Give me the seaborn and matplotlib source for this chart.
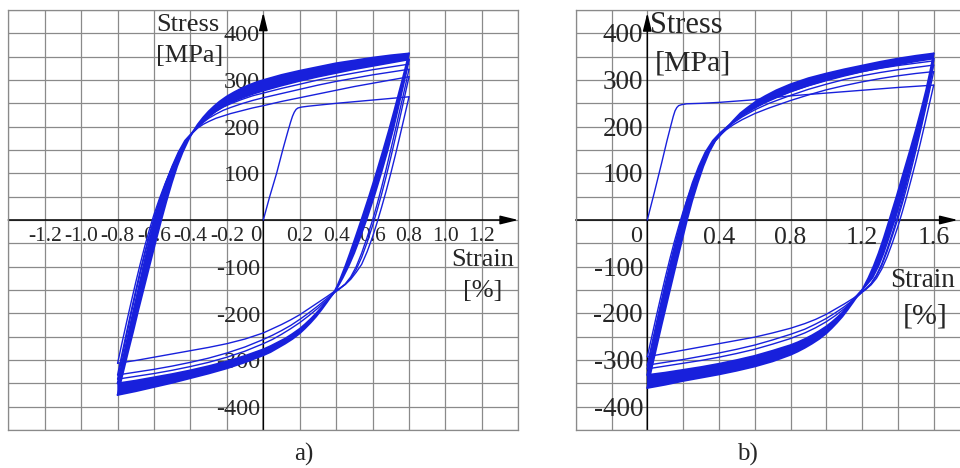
import numpy as np
import pandas as pd
import matplotlib
matplotlib.use("Agg")
import matplotlib.pyplot as plt
import seaborn as sns

sns.set_style("white")
plt.rcParams["font.family"] = ["Liberation Serif", "DejaVu Serif"]

BLUE = "#1820dc"
GRID = "#8a8a8a"

# ---------------- panel a) data : (strain %, stress MPa) ----------------
A_INIT = [(0.00, 0), (0.035, 50), (0.073, 100), (0.11, 155), (0.135, 190), (0.15, 210), (0.16, 222),
          (0.17, 231), (0.18, 237), (0.19, 240), (0.21, 242), (0.25, 244), (0.40, 250), (0.60, 257),
          (0.80, 264)]
A_LB1 = [(0.80, 264), (0.775, 222), (0.75, 180), (0.725, 139), (0.70, 100), (0.675, 63), (0.65, 28),
         (0.625, -5), (0.60, -36), (0.57, -68), (0.54, -95), (0.51, -112), (0.48, -127), (0.45, -138),
         (0.42, -146), (0.39, -153), (0.35, -164), (0.30, -177), (0.25, -190), (0.20, -203),
         (0.15, -214), (0.10, -224), (0.05, -233), (0.00, -242), (-0.10, -255), (-0.20, -265),
         (-0.30, -273), (-0.40, -280), (-0.50, -287), (-0.60, -294), (-0.70, -301), (-0.80, -307)]
A_UB1 = [(-0.80, -307), (-0.775, -262), (-0.75, -218), (-0.725, -175), (-0.70, -133), (-0.675, -93),
         (-0.65, -55), (-0.625, -20), (-0.60, 12), (-0.57, 46), (-0.54, 77), (-0.51, 105),
         (-0.48, 130), (-0.45, 151), (-0.42, 170), (-0.39, 186), (-0.36, 197), (-0.33, 205),
         (-0.30, 211), (-0.26, 218), (-0.22, 223), (-0.18, 228), (-0.12, 234), (-0.06, 240),
         (0.00, 245), (0.10, 254), (0.20, 262), (0.30, 270), (0.40, 278), (0.50, 286), (0.60, 293),
         (0.70, 300), (0.80, 307)]
A_LB2 = [(0.80, 307), (0.775, 263), (0.75, 219), (0.725, 176), (0.70, 134), (0.675, 94), (0.65, 56),
         (0.625, 21), (0.60, -12), (0.57, -48), (0.54, -80), (0.51, -106), (0.48, -125), (0.45, -138),
         (0.42, -147), (0.39, -155), (0.35, -168), (0.30, -184), (0.25, -199), (0.20, -213),
         (0.15, -226), (0.10, -237), (0.05, -247), (0.00, -256), (-0.10, -272), (-0.20, -285),
         (-0.30, -296), (-0.40, -305), (-0.50, -313), (-0.60, -320), (-0.70, -326), (-0.80, -332)]
A_UB2 = [(-0.80, -332), (-0.775, -285), (-0.75, -239), (-0.725, -194), (-0.70, -150), (-0.675, -108),
         (-0.65, -68), (-0.625, -31), (-0.60, 4), (-0.57, 41), (-0.54, 74), (-0.51, 104),
         (-0.48, 130), (-0.45, 152), (-0.42, 171), (-0.39, 186), (-0.36, 199), (-0.33, 209),
         (-0.30, 218), (-0.26, 227), (-0.22, 235), (-0.18, 241), (-0.12, 249), (-0.06, 256),
         (0.00, 262), (0.10, 271), (0.20, 280), (0.30, 289), (0.40, 297), (0.50, 304), (0.60, 311),
         (0.70, 317), (0.80, 323)]
A_LB3 = [(0.80, 323), (0.775, 279), (0.75, 236), (0.725, 193), (0.70, 151), (0.675, 110), (0.65, 71),
         (0.625, 34), (0.60, 0), (0.57, -37), (0.54, -71), (0.51, -100), (0.48, -122), (0.45, -137),
         (0.42, -147), (0.39, -156), (0.35, -171), (0.30, -189), (0.25, -205), (0.20, -220),
         (0.15, -233), (0.10, -245), (0.05, -256), (0.00, -265), (-0.10, -281), (-0.20, -294),
         (-0.30, -305), (-0.40, -314), (-0.50, -322), (-0.60, -329), (-0.70, -335), (-0.80, -341)]
A_UB3 = [(-0.80, -341), (-0.775, -293), (-0.75, -246), (-0.725, -200), (-0.70, -156), (-0.675, -113),
         (-0.65, -72), (-0.625, -34), (-0.60, 1), (-0.57, 39), (-0.54, 73), (-0.51, 103),
         (-0.48, 130), (-0.45, 153), (-0.42, 172), (-0.39, 186), (-0.36, 201), (-0.33, 212),
         (-0.30, 222), (-0.26, 233), (-0.22, 242), (-0.18, 249), (-0.12, 258), (-0.06, 266),
         (0.00, 272), (0.10, 282), (0.20, 291), (0.30, 300), (0.40, 308), (0.50, 315), (0.60, 322),
         (0.70, 328), (0.80, 334)]
A_LB_IN = [(0.80, 343), (0.786, 318), (0.763, 279), (0.738, 236), (0.712, 193), (0.681, 147),
           (0.647, 100), (0.608, 50), (0.566, 0), (0.532, -37), (0.499, -71), (0.469, -98),
           (0.436, -124), (0.402, -148), (0.38, -160), (0.35, -173), (0.32, -187), (0.29, -200),
           (0.26, -212), (0.23, -223), (0.20, -233), (0.16, -244), (0.12, -254), (0.08, -262),
           (0.04, -270), (0.00, -277), (-0.10, -291), (-0.20, -303), (-0.30, -313), (-0.40, -322),
           (-0.50, -330), (-0.60, -337), (-0.70, -344), (-0.80, -350)]
A_LB_OUT = [(0.80, 357), (0.775, 318), (0.749, 279), (0.72, 236), (0.69, 193), (0.656, 147),
            (0.62, 100), (0.58, 50), (0.538, 0), (0.506, -37), (0.476, -71), (0.451, -98),
            (0.425, -124), (0.41, -138), (0.395, -150), (0.375, -162), (0.35, -176), (0.32, -192),
            (0.29, -207), (0.26, -220), (0.23, -232), (0.20, -243), (0.16, -255), (0.12, -265),
            (0.08, -274), (0.04, -283), (0.00, -290), (-0.10, -305), (-0.20, -318), (-0.30, -329),
            (-0.40, -339), (-0.50, -349), (-0.60, -358), (-0.70, -367), (-0.80, -375)]
A_UB_IN = [(-0.80, -350), (-0.775, -305), (-0.75, -260), (-0.725, -215), (-0.699, -170),
           (-0.673, -125), (-0.647, -80), (-0.622, -40), (-0.596, 0), (-0.567, 40), (-0.534, 80),
           (-0.50, 115), (-0.466, 145), (-0.43, 170), (-0.393, 186), (-0.36, 200), (-0.33, 211),
           (-0.30, 221), (-0.26, 233), (-0.22, 243), (-0.18, 251), (-0.14, 258), (-0.10, 264),
           (-0.05, 271), (0.00, 277), (0.10, 288), (0.20, 298), (0.30, 307), (0.40, 315), (0.50, 323),
           (0.60, 330), (0.70, 337), (0.80, 344)]
A_UB_OUT = [(-0.80, -375), (-0.772, -330), (-0.744, -285), (-0.715, -240), (-0.686, -193),
            (-0.655, -145), (-0.624, -97), (-0.592, -48), (-0.56, 0), (-0.532, 40), (-0.502, 80),
            (-0.473, 115), (-0.443, 145), (-0.413, 170), (-0.39, 187), (-0.36, 205), (-0.33, 220),
            (-0.30, 233), (-0.27, 244), (-0.24, 254), (-0.20, 265), (-0.16, 274), (-0.12, 282),
            (-0.08, 289), (-0.04, 295), (0.00, 300), (0.10, 311), (0.20, 320), (0.30, 328),
            (0.40, 336), (0.50, 342), (0.60, 348), (0.70, 353), (0.80, 357)]

A_XTICK_VALUES = [-1.2, -1.0, -0.8, -0.6, -0.4, -0.2, 0.2, 0.4, 0.6, 0.8, 1.0, 1.2]
A_XTICK_LABELS = ["-1.2", "-1.0", "-0.8", "-0.6", "-0.4", "-0.2", "0.2", "0.4", "0.6", "0.8", "1.0", "1.2"]
A_YTICK_VALUES = [400, 300, 200, 100, -100, -200, -300, -400]
A_YTICK_LABELS = ["400", "300", "200", "100", "-100", "-200", "-300", "-400"]

# ---------------- panel b) data ----------------
B_INIT = [(0.00, 0), (0.04, 60), (0.08, 122), (0.11, 170), (0.13, 200), (0.145, 222), (0.155, 234),
          (0.165, 241), (0.175, 245), (0.19, 247), (0.22, 249), (0.30, 250), (0.40, 252),
          (0.574, 257), (0.80, 266), (1.00, 272), (1.20, 278), (1.40, 284), (1.60, 289)]
B_LB1 = [(1.60, 289), (1.575, 247), (1.55, 205), (1.525, 164), (1.50, 125), (1.475, 88), (1.45, 52),
         (1.425, 18), (1.40, -14), (1.37, -48), (1.34, -79), (1.31, -105), (1.28, -125),
         (1.25, -139), (1.22, -149), (1.19, -157), (1.15, -168), (1.10, -180), (1.05, -191),
         (1.00, -202), (0.94, -213), (0.88, -222), (0.80, -232), (0.70, -242), (0.60, -251),
         (0.50, -258), (0.40, -265), (0.30, -272), (0.20, -279), (0.10, -286), (0.00, -293)]
B_UB1 = [(0.00, -293), (0.025, -250), (0.05, -207), (0.075, -165), (0.10, -124), (0.125, -85),
         (0.15, -48), (0.175, -14), (0.20, 18), (0.23, 52), (0.26, 83), (0.29, 110), (0.32, 134),
         (0.35, 154), (0.38, 170), (0.41, 183), (0.44, 193), (0.48, 204), (0.53, 215), (0.60, 228),
         (0.68, 240), (0.80, 256), (0.90, 268), (1.00, 279), (1.10, 288), (1.20, 296), (1.30, 303),
         (1.40, 309), (1.50, 314), (1.60, 318)]
B_LB2 = [(1.60, 318), (1.575, 274), (1.55, 231), (1.525, 189), (1.50, 148), (1.475, 109), (1.45, 71),
         (1.425, 36), (1.40, 3), (1.37, -33), (1.34, -67), (1.31, -97), (1.28, -120), (1.25, -137),
         (1.22, -148), (1.19, -158), (1.15, -171), (1.10, -186), (1.05, -199), (1.00, -211),
         (0.94, -223), (0.88, -234), (0.80, -245), (0.70, -257), (0.60, -268), (0.50, -277),
         (0.40, -285), (0.30, -292), (0.20, -299), (0.10, -305), (0.00, -311)]
B_UB2 = [(0.00, -311), (0.025, -266), (0.05, -222), (0.075, -179), (0.10, -137), (0.125, -97),
         (0.15, -59), (0.175, -23), (0.20, 10), (0.23, 45), (0.26, 78), (0.29, 107), (0.32, 132),
         (0.35, 153), (0.38, 170), (0.41, 183), (0.44, 195), (0.48, 208), (0.53, 221), (0.60, 236),
         (0.68, 250), (0.80, 267), (0.90, 280), (1.00, 291), (1.10, 301), (1.20, 309), (1.30, 316),
         (1.40, 322), (1.50, 327), (1.60, 332)]
B_LB3 = [(1.60, 332), (1.575, 288), (1.55, 245), (1.525, 202), (1.50, 160), (1.475, 120), (1.45, 81),
         (1.425, 44), (1.40, 10), (1.37, -27), (1.34, -62), (1.31, -94), (1.28, -118), (1.25, -136),
         (1.22, -148), (1.19, -158), (1.15, -173), (1.10, -190), (1.05, -205), (1.00, -218),
         (0.94, -231), (0.88, -242), (0.80, -254), (0.70, -266), (0.60, -277), (0.50, -286),
         (0.40, -294), (0.30, -301), (0.20, -307), (0.10, -313), (0.00, -319)]
B_UB3 = [(0.00, -319), (0.025, -273), (0.05, -228), (0.075, -184), (0.10, -142), (0.125, -101),
         (0.15, -62), (0.175, -26), (0.20, 7), (0.23, 42), (0.26, 76), (0.29, 105), (0.32, 131),
         (0.35, 153), (0.38, 171), (0.41, 184), (0.44, 197), (0.48, 211), (0.53, 226), (0.60, 242),
         (0.68, 257), (0.80, 275), (0.90, 288), (1.00, 300), (1.10, 310), (1.20, 318), (1.30, 325),
         (1.40, 331), (1.50, 336), (1.60, 341)]
B_LB_IN = [(1.60, 346), (1.59, 318), (1.572, 279), (1.549, 236), (1.523, 193), (1.493, 147),
           (1.46, 100), (1.422, 50), (1.382, 0), (1.35, -37), (1.32, -71), (1.292, -98),
           (1.258, -124), (1.205, -148), (1.18, -158), (1.15, -171), (1.12, -185), (1.09, -198),
           (1.06, -209), (1.03, -219), (1.00, -228), (0.96, -238), (0.92, -247), (0.88, -255),
           (0.84, -262), (0.80, -268), (0.70, -280), (0.60, -291), (0.50, -300), (0.40, -308),
           (0.30, -315), (0.20, -321), (0.10, -327), (0.00, -332)]
B_LB_OUT = [(1.60, 357), (1.58, 318), (1.558, 279), (1.53, 236), (1.50, 193), (1.466, 147),
            (1.43, 100), (1.392, 50), (1.352, 0), (1.322, -37), (1.292, -71), (1.265, -98),
            (1.235, -124), (1.20, -150), (1.175, -162), (1.15, -176), (1.12, -192), (1.09, -207),
            (1.06, -220), (1.03, -232), (1.00, -243), (0.96, -255), (0.92, -265), (0.88, -274),
            (0.84, -282), (0.80, -289), (0.70, -303), (0.60, -314), (0.50, -323), (0.40, -331),
            (0.30, -338), (0.20, -345), (0.10, -353), (0.00, -360)]
B_UB_IN = [(0.00, -332), (0.022, -290), (0.046, -245), (0.071, -200), (0.097, -155), (0.123, -110),
           (0.15, -65), (0.175, -25), (0.191, 0), (0.22, 40), (0.253, 80), (0.288, 115),
           (0.324, 145), (0.366, 170), (0.405, 186), (0.45, 201), (0.49, 213), (0.54, 226),
           (0.60, 240), (0.66, 252), (0.73, 264), (0.80, 275), (0.90, 288), (1.00, 299), (1.10, 309),
           (1.20, 318), (1.30, 326), (1.40, 333), (1.50, 340), (1.60, 346)]
B_UB_OUT = [(0.00, -360), (0.026, -315), (0.053, -270), (0.08, -225), (0.108, -180), (0.136, -135),
            (0.164, -90), (0.193, -45), (0.222, 0), (0.25, 40), (0.282, 80), (0.313, 115),
            (0.345, 145), (0.38, 170), (0.42, 187), (0.45, 200), (0.48, 213), (0.52, 229),
            (0.56, 241), (0.61, 255), (0.66, 266), (0.72, 278), (0.80, 291), (0.90, 304),
            (1.00, 314), (1.10, 323), (1.20, 331), (1.30, 339), (1.40, 346), (1.50, 352), (1.60, 357)]

B_XTICK_VALUES = [0.4, 0.8, 1.2, 1.6]
B_XTICK_LABELS = ["0.4", "0.8", "1.2", "1.6"]
B_YTICK_VALUES = [400, 300, 200, 100, -100, -200, -300, -400]
B_YTICK_LABELS = ["400", "300", "200", "100", "-100", "-200", "-300", "-400"]


def curves_df(curves):
    rows = []
    for name, pts in curves.items():
        for i, (x, y) in enumerate(pts):
            rows.append((name, i, x, y))
    return pd.DataFrame(rows, columns=["curve", "order", "strain", "stress"])


def base(ax, xlim):
    ax.set_xlim(*xlim)
    ax.set_ylim(-450, 450)
    ax.set_xticks(np.round(np.arange(xlim[0], xlim[1] + 1e-6, 0.2), 2))
    ax.set_yticks(np.arange(-450, 451, 50))
    ax.set_axisbelow(True)
    ax.grid(True, color=GRID, lw=0.9)
    ax.tick_params(length=0, labelbottom=False, labelleft=False)
    for s in ax.spines.values():
        s.set_color(GRID)
        s.set_linewidth(0.9)


def draw_loops(ax, thin, bands):
    for inner, outer in bands:
        xs = [p[0] for p in inner] + [p[0] for p in outer[::-1]]
        ys = [p[1] for p in inner] + [p[1] for p in outer[::-1]]
        ax.fill(xs, ys, color=BLUE, lw=0, zorder=3)
    band_curves = {}
    for k, (inner, outer) in enumerate(bands):
        band_curves[f"band{k}in"] = inner
        band_curves[f"band{k}out"] = outer
    sns.lineplot(data=curves_df(band_curves), x="strain", y="stress", units="curve",
                 estimator=None, sort=False, color=BLUE, lw=1.3, ax=ax, legend=False, zorder=3)
    sns.lineplot(data=curves_df(thin), x="strain", y="stress", units="curve",
                 estimator=None, sort=False, color=BLUE, lw=1.0, ax=ax, legend=False, zorder=3)
    ax.set_xlabel("")
    ax.set_ylabel("")


def arrows(ax, xstart, xend, ytop):
    style = "-|>,head_length=0.9,head_width=0.22"
    ax.annotate("", xy=(xend, 0), xytext=(xstart, 0), annotation_clip=False, zorder=2.5,
                arrowprops=dict(arrowstyle=style, color="black", lw=1.1, shrinkA=0, shrinkB=0,
                                mutation_scale=12))
    ax.annotate("", xy=(0, ytop), xytext=(0, -450), annotation_clip=False, zorder=2.5,
                arrowprops=dict(arrowstyle=style, color="black", lw=1.1, shrinkA=0, shrinkB=0,
                                mutation_scale=12))


fig = plt.figure(figsize=(9.6, 4.68), dpi=100)
axA = fig.add_axes([8.3 / 960, 38 / 468, 510 / 960, 420 / 468])
axB = fig.add_axes([575.7 / 960, 38 / 468, 393.8 / 960, 420 / 468])

# ---- panel a ----
base(axA, (-1.4, 1.4))
arrows(axA, -1.4, 1.4, 445)
draw_loops(axA,
           {"init": A_INIT, "lb1": A_LB1, "ub1": A_UB1, "lb2": A_LB2, "ub2": A_UB2,
            "lb3": A_LB3, "ub3": A_UB3},
           [(A_LB_IN, A_LB_OUT), (A_UB_IN, A_UB_OUT)])
for v, t in zip(A_XTICK_VALUES, A_XTICK_LABELS):
    axA.text(v, -46, t, ha="center", va="baseline", fontsize=15.5, zorder=1.5)
axA.text(-0.041, -44, "0", ha="center", va="baseline", fontsize=16.5, zorder=1.5)
for v, t in zip(A_YTICK_VALUES, A_YTICK_LABELS):
    axA.text(-0.018, v - 17.5, t, ha="right", va="baseline", fontsize=17.5, zorder=1.5)
axA.text(-0.59, 405, "Stress", ha="left", va="baseline", fontsize=19, zorder=1.5)
axA.text(-0.59, 339, "[MPa]", ha="left", va="baseline", fontsize=19, zorder=1.5)
axA.text(1.205, -99, "Strain", ha="center", va="baseline", fontsize=19, zorder=1.5)
axA.text(1.205, -165, "[%]", ha="center", va="baseline", fontsize=19, zorder=1.5)

# ---- panel b ----
base(axB, (-0.4, 1.8))
arrows(axB, -0.4, 1.735, 444)
draw_loops(axB,
           {"init": B_INIT, "lb1": B_LB1, "ub1": B_UB1, "lb2": B_LB2, "ub2": B_UB2,
            "lb3": B_LB3, "ub3": B_UB3},
           [(B_LB_IN, B_LB_OUT), (B_UB_IN, B_UB_OUT)])
for v, t in zip(B_XTICK_VALUES, B_XTICK_LABELS):
    axB.text(v, -51, t, ha="center", va="baseline", fontsize=18.5, zorder=1.5)
axB.text(-0.063, -48, "0", ha="center", va="baseline", fontsize=17.5, zorder=1.5)
for v, t in zip(B_YTICK_VALUES, B_YTICK_LABELS):
    axB.text(-0.024, v - 19.5, t, ha="right", va="baseline", fontsize=19.5, zorder=1.5)
axB.text(0.015, 400, "Stress", ha="left", va="baseline", fontsize=22, zorder=1.5)
axB.text(0.043, 321, "[MPa]", ha="left", va="baseline", fontsize=21.5, zorder=1.5)
axB.text(1.355, -143, "Strain", ha="left", va="baseline", fontsize=19.5, zorder=1.5)
axB.text(1.551, -221, "[%]", ha="center", va="baseline", fontsize=21.5, zorder=1.5)

fig.text(304 / 960, 7 / 468, "a)", ha="center", va="baseline", fontsize=18)
fig.text(747 / 960, 7 / 468, "b)", ha="center", va="baseline", fontsize=18)

fig.savefig("out.png", dpi=100)
